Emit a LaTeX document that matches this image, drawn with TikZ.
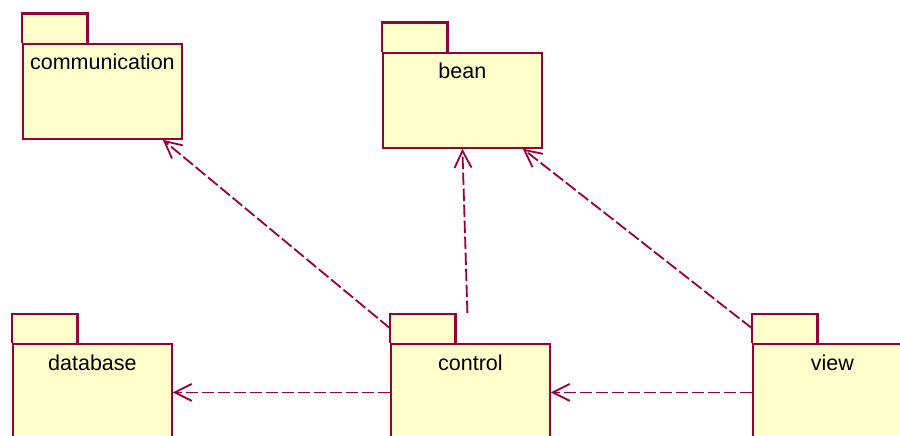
\documentclass[tikz,border=0pt]{standalone}
\usepackage{fontspec}
\setmainfont{Liberation Sans}
\usetikzlibrary{arrows.meta,positioning}
\definecolor{pkgline}{RGB}{153,0,51}
\definecolor{pkgfill}{RGB}{255,255,204}

\begin{document}
\begin{tikzpicture}[x=1pt, y=-1pt,
    pkgbody/.style={draw=pkgline, fill=pkgfill, line width=1.8pt, rectangle, minimum width=159pt, minimum height=95pt, inner sep=0pt, anchor=north west},
    pkgtab/.style={fill=pkgfill, rectangle, minimum width=65pt, minimum height=29pt, inner sep=0pt, anchor=south west},
    tabedge/.style={draw=pkgline, line width=2.2pt, line join=miter},
    pkgname/.style={anchor=base, inner sep=0pt, font=\fontsize{21.5}{24}\selectfont},
    dep/.style={draw=pkgline, line width=1.8pt, dash pattern=on 12.5pt off 3.5pt, -{Straight Barb[length=17pt,width=17pt]}}]
    \useasboundingbox (0,0) rectangle (900,436);
    \clip (0,0) rectangle (900,436);

    % packages: body, tab (three sides only), name
    \node[pkgbody] (comm) at (22,43) {};
    \node[pkgtab] (commtab) at (comm.north west) {};
    \draw[tabedge] (commtab.south west) |- (commtab.north east) -- (commtab.south east);
    \node[pkgname] at ([yshift=-27pt]comm.north) {communication};

    \node[pkgbody] (bean) at (382,52) {};
    \node[pkgtab] (beantab) at (bean.north west) {};
    \draw[tabedge] (beantab.south west) |- (beantab.north east) -- (beantab.south east);
    \node[pkgname] at ([yshift=-27pt]bean.north) {bean};

    \node[pkgbody] (database) at (12,343) {};
    \node[pkgtab] (databasetab) at (database.north west) {};
    \draw[tabedge] (databasetab.south west) |- (databasetab.north east) -- (databasetab.south east);
    \node[pkgname] at ([yshift=-27pt]database.north) {database};

    \node[pkgbody] (control) at (390,343) {};
    \node[pkgtab] (controltab) at (control.north west) {};
    \draw[tabedge] (controltab.south west) |- (controltab.north east) -- (controltab.south east);
    \node[pkgname] at ([yshift=-27pt]control.north) {control};

    \node[pkgbody] (view) at (752,343) {};
    \node[pkgtab] (viewtab) at (view.north west) {};
    \draw[tabedge] (viewtab.south west) |- (viewtab.north east) -- (viewtab.south east);
    \node[pkgname] at ([yshift=-27pt]view.north) {view};

    % dependencies
    \draw[dep] (controltab.west) -- ([xshift=-20pt]comm.south east);
    \draw[dep] ([shift={(-3pt,30pt)}]control.north) -- (bean.south);
    \draw[dep] (viewtab.west) -- ([xshift=-20pt]bean.south east);
    \draw[dep] ([yshift=-1pt]control.west) -- ([yshift=-1pt]database.east);
    \draw[dep] ([yshift=-1pt]view.west) -- ([yshift=-1pt]control.east);
\end{tikzpicture}
\end{document}
